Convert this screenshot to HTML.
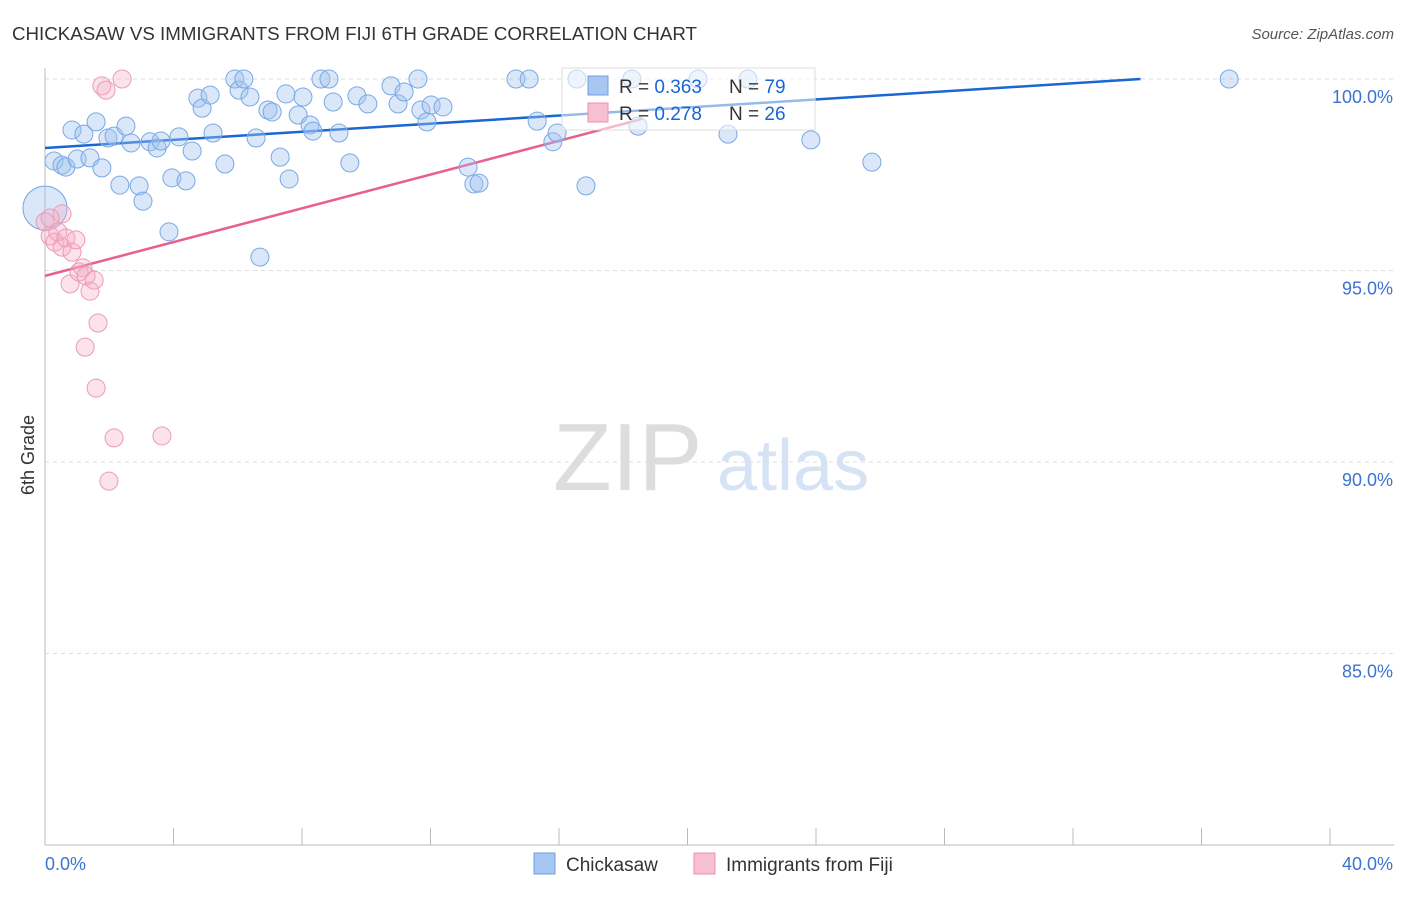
<!DOCTYPE html>
<html><head><meta charset="utf-8"><style>
body{margin:0;background:#fff;font-family:"Liberation Sans",sans-serif;}
svg text{font-family:"Liberation Sans",sans-serif;}
</style></head><body>
<svg id="chart" width="1406" height="892" xmlns="http://www.w3.org/2000/svg">
<text x="12" y="40" font-size="18" fill="#333" textLength="685" lengthAdjust="spacingAndGlyphs">CHICKASAW VS IMMIGRANTS FROM FIJI 6TH GRADE CORRELATION CHART</text>
<text x="1394" y="39" font-size="15" fill="#555" font-style="italic" text-anchor="end">Source: ZipAtlas.com</text>
<g><text x="553" y="490" font-size="96" fill="#ddd" font-family="Liberation Serif">ZIP</text><text x="717" y="490" font-size="72" fill="#d5e3f5">atlas</text></g>
<g id="grid"></g><g id="axes"></g><g id="lines"></g><g id="pts"></g>
<text x="34" y="455" font-size="18" fill="#333" transform="rotate(-90 34 455)" text-anchor="middle">6th Grade</text>
<g>
<rect x="562" y="68" width="253" height="62" fill="rgba(255,255,255,0.55)" stroke="#ddd"/>
<rect x="588" y="76" width="20" height="19" fill="#a8c6f2" stroke="#6fa0e0"/>
<text x="619" y="93" font-size="19" fill="#333">R = <tspan fill="#1a66d4">0.363</tspan></text>
<text x="729" y="93" font-size="19" fill="#333">N = <tspan fill="#1a66d4">79</tspan></text>
<rect x="588" y="103" width="20" height="19" fill="#f7c0d0" stroke="#e890ac"/>
<text x="619" y="120" font-size="19" fill="#333">R = <tspan fill="#1a66d4">0.278</tspan></text>
<text x="729" y="120" font-size="19" fill="#333">N = <tspan fill="#1a66d4">26</tspan></text>
</g>
<g>
<rect x="534" y="853" width="21" height="21" fill="#a8c6f2" stroke="#6fa0e0"/>
<text x="566" y="871" font-size="19" fill="#333">Chickasaw</text>
<rect x="694" y="853" width="21" height="21" fill="#f7c0d0" stroke="#e890ac"/>
<text x="726" y="871" font-size="19" fill="#333">Immigrants from Fiji</text>
</g>
</svg>
<script>
const blueX=[0.28,0.53,0.65,0.84,1.21,1.00,1.40,1.59,1.77,1.96,2.15,2.33,2.52,2.68,2.93,3.05,3.27,3.49,3.61,3.86,3.95,4.17,4.39,4.58,4.76,4.89,5.14,5.23,5.60,5.91,6.04,6.19,6.38,6.57,6.69,6.94,7.07,7.32,7.50,7.60,7.88,8.03,8.25,8.34,8.59,8.84,8.97,9.15,9.49,9.71,10.05,10.77,10.99,11.18,11.61,11.70,11.89,12.02,12.39,13.17,13.35,13.51,14.66,15.07,15.32,15.81,15.94,16.56,16.84,18.27,18.46,20.33,21.26,21.88,23.84,25.74,36.86,0];
const blueY=[97.86,97.75,97.70,98.67,98.56,97.91,97.94,98.88,97.68,98.46,98.51,97.23,98.77,98.33,97.21,96.81,98.36,98.20,98.38,96.01,97.42,98.49,97.34,98.12,99.50,99.24,99.58,98.59,97.78,100,99.71,100,99.53,98.46,95.35,99.19,99.14,97.96,99.61,97.39,99.06,99.53,98.80,98.64,100,100,99.40,98.59,97.81,99.56,99.35,99.82,99.35,99.66,100,99.19,98.88,99.32,99.27,97.70,97.26,97.28,100,100,98.90,98.36,98.59,100,97.21,100,98.77,100,98.56,100,98.41,97.83,100,96.63];
const pinkX=[0,0.16,0.31,0.40,0.53,0.65,0.84,0.96,0.78,1.06,1.18,1.28,1.40,1.53,1.65,1.25,1.59,2.15,3.64,1.99,1.77,1.90,2.40,0.53,0.16];
const pinkY=[96.27,95.90,95.74,96.01,95.61,95.85,95.48,95.80,94.65,94.96,95.07,94.86,94.46,94.75,93.63,93.00,91.93,90.63,90.68,89.50,99.82,99.71,100,96.48,96.37];
const blueLine=[0,98.2,34.1,100];
const pinkLine=[0,94.86,18.6,98.96];
const yTicks=[100,95,90,85];
const yTickLabels=["100.0%","95.0%","90.0%","85.0%"];
const xTickLabels=["0.0%","40.0%"];
const NS="http://www.w3.org/2000/svg";
const xs=v=>45+v*(1285/40), ys=v=>79+(100-v)*38.3;
function mk(t,a,p){const e=document.createElementNS(NS,t);for(const k in a)e.setAttribute(k,a[k]);document.getElementById(p).appendChild(e);return e;}
yTicks.forEach((t,i)=>{
 const g=mk('line',{x1:45,x2:1394,y1:ys(t),y2:ys(t),stroke:'#ddd','stroke-dasharray':'4,4'},'grid');
 
 
 const l=mk('text',{x:1393,y:ys(t)+24,'font-size':18,fill:'#3b74d0','text-anchor':'end'},'axes');l.textContent=yTickLabels[i];
 
 
});
const ax=mk('line',{x1:45,x2:45,y1:68,y2:845,stroke:'#bbb'},'axes');


const bx=mk('line',{x1:45,x2:1394,y1:845,y2:845,stroke:'#bbb'},'axes');


for(let i=0;i<=10;i++){const t=mk('line',{x1:xs(i*4),x2:xs(i*4),y1:828,y2:845,stroke:'#bbb'},'axes');
 
 }
[[0,'start',45],[40,'end',1393]].forEach((d,i)=>{const l=mk('text',{x:d[2],y:870,'font-size':18,fill:'#3b74d0','text-anchor':d[1]},'axes');l.textContent=xTickLabels[i];
 
 });
function pts(X,Y,fill,stroke,name){X.forEach((x,i)=>{const big=(name==='chickasaw-point'&&i===X.length-1);
 const c=mk('circle',{cx:xs(x),cy:ys(Y[i]),r:big?22:9,fill:fill,stroke:stroke,'stroke-width':1},'pts');
 
 });}
pts(blueX,blueY,'rgba(160,195,240,0.4)','#7aa8e4','chickasaw-point');
pts(pinkX,pinkY,'rgba(245,175,198,0.35)','#eb9ab5','fiji-point');
const bl=mk('line',{x1:xs(blueLine[0]),y1:ys(blueLine[1]),x2:xs(blueLine[2]),y2:ys(blueLine[3]),stroke:'#1a66d4','stroke-width':2.5},'lines');


const pl=mk('line',{x1:xs(pinkLine[0]),y1:ys(pinkLine[1]),x2:xs(pinkLine[2]),y2:ys(pinkLine[3]),stroke:'#e8608e','stroke-width':2.5},'lines');


</script>
</body></html>
